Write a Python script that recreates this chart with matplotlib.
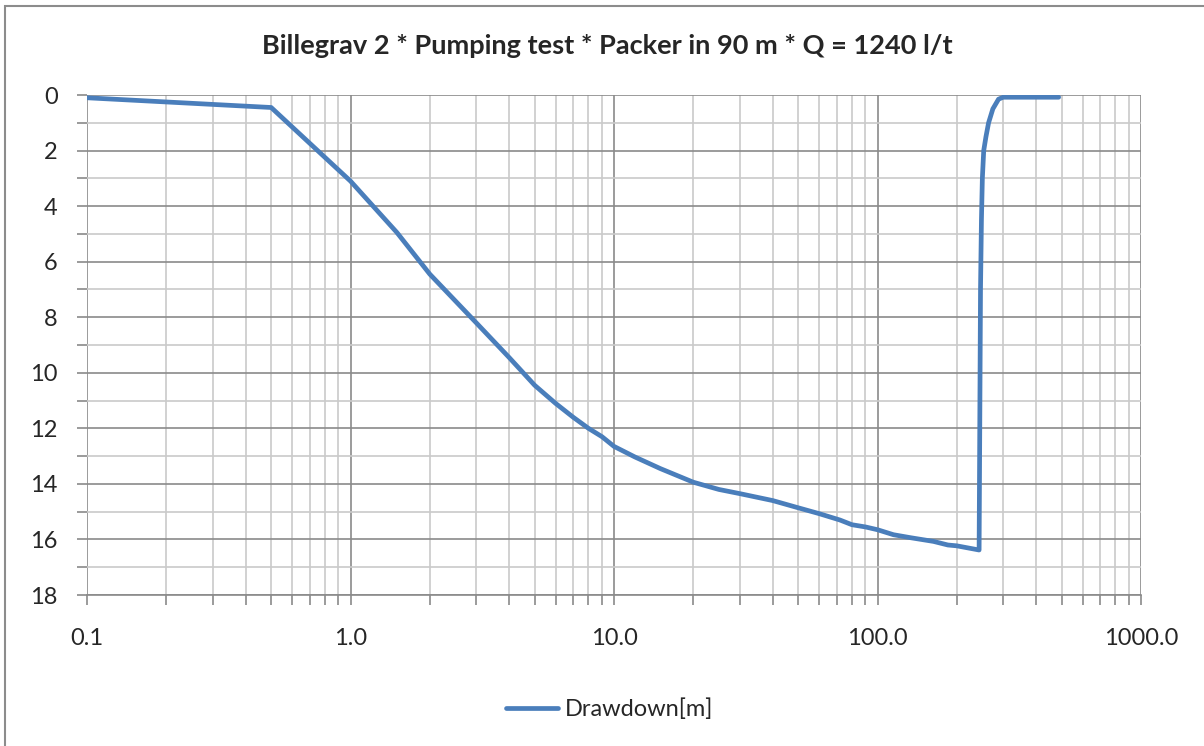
import matplotlib.pyplot as plt
from matplotlib.patches import Rectangle
from matplotlib.ticker import LogLocator, FixedLocator, NullFormatter, FuncFormatter

# time in minutes (log axis) and drawdown in metres
time_min = [0.1, 0.5, 1.0, 1.5, 2.0, 3.0, 4.0, 5.0, 6.0, 7.0, 8.0, 9.0,
            10.0, 12.0, 15.0, 20.0, 25.0, 30.0, 40.0, 50.0, 60.0, 72.0, 80.0,
            90.0, 100.0, 115.0, 134.0, 163.0, 185.0, 200.0, 243.0,
            246.0, 248.0, 250.0, 253.0, 258.0, 264.0, 274.0, 288.0, 300.0, 487.0]
drawdown = [0.1, 0.45, 3.1, 4.95, 6.45, 8.2, 9.45, 10.45, 11.1, 11.6, 12.0, 12.3,
            12.65, 13.03, 13.45, 13.94, 14.2, 14.35, 14.6, 14.86, 15.07, 15.3, 15.47,
            15.55, 15.65, 15.83, 15.94, 16.07, 16.2, 16.23, 16.38,
            7.0, 4.5, 3.0, 2.0, 1.5, 1.0, 0.5, 0.15, 0.08, 0.08]

y_ticks = [0, 2, 4, 6, 8, 10, 12, 14, 16, 18]
x_ticks = [0.1, 1.0, 10.0, 100.0, 1000.0]

plt.rcParams['font.family'] = ['Lato', 'DejaVu Sans']

fig = plt.figure(figsize=(12.04, 7.46), dpi=100)
fig.patch.set_facecolor('white')
# outer chart frame (only top and left edges visible in the reference)
fig.add_artist(Rectangle((5 / 1204, -0.1), 1.2, 0.1 + (746 - 6) / 746,
                         transform=fig.transFigure, fill=False,
                         edgecolor='#8c8c8c', linewidth=1.5))

ax = fig.add_axes([87 / 1204, 1 - 595 / 746, (1141 - 87) / 1204, (595 - 95) / 746])
ax.plot(time_min, drawdown, color='#4a7ebb', linewidth=3.4, label='Drawdown[m]',
        solid_joinstyle='round', solid_capstyle='round', zorder=3)

ax.set_xscale('log')
ax.set_xlim(0.1, 1000)
ax.set_ylim(18, 0)

ax.xaxis.set_major_locator(FixedLocator(x_ticks))
ax.xaxis.set_major_formatter(FuncFormatter(lambda v, p: f'{v:.1f}'))
ax.xaxis.set_minor_locator(LogLocator(base=10, subs=range(2, 10)))
ax.xaxis.set_minor_formatter(NullFormatter())
ax.yaxis.set_major_locator(FixedLocator(y_ticks))
ax.yaxis.set_minor_locator(FixedLocator(range(1, 18, 2)))

ax.grid(which='major', color='#8a8a8a', linewidth=1.2)
ax.grid(which='minor', color='#cacaca', linewidth=1.2)
ax.set_axisbelow(True)

for side in ['top', 'right', 'left']:
    ax.spines[side].set_visible(False)
ax.spines['bottom'].set_color('#8a8a8a')
ax.spines['bottom'].set_linewidth(1.2)

ax.tick_params(which='both', axis='both', direction='out', length=7,
               color='#8a8a8a', width=1.2)
ax.tick_params(axis='x', which='major', labelsize=17, pad=17, colors='#8a8a8a',
               labelcolor='#262626')
ax.tick_params(axis='y', which='major', labelsize=17, pad=14, colors='#8a8a8a',
               labelcolor='#262626')

fig.text(607 / 1204, 1 - 46 / 746, 'Billegrav 2 * Pumping test * Packer in 90 m * Q = 1240 l/t',
         ha='center', va='center', fontsize=19.5, fontweight='bold', color='#262626')

fig.legend(loc='center', bbox_to_anchor=(610 / 1204, 1 - 709 / 746), frameon=False,
           fontsize=17, handlelength=2.2, handletextpad=0.3, labelcolor='#262626')

fig.savefig('out.png', dpi=100, facecolor=fig.get_facecolor())
